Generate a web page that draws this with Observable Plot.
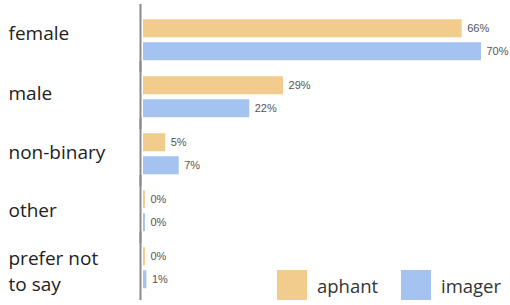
<!DOCTYPE html>
<html>
<head>
<meta charset="utf-8">
<script src="https://cdn.jsdelivr.net/npm/d3@7"></script>
<script src="https://cdn.jsdelivr.net/npm/@observablehq/plot@0.6"></script>
<style>
  html, body { margin: 0; padding: 0; background: #fff; }
  #wrap { position: relative; width: 510px; height: 305px; }
  .legend-item { position: absolute; display: flex; align-items: center; font-family: "Open Sans", sans-serif; font-size: 18.5px; color: #333; }
  .swatch { width: 30px; height: 30px; margin-right: 10px; }
</style>
</head>
<body>
<div id="wrap"></div>
<script>
const categories = ["female", "male", "non-binary", "other", "prefer not to say"];
const categoryLabels = ["female", "male", "non-binary", "other", "prefer not\nto say"];
const groups = ["aphant", "imager"];
const aphant = [66, 29, 4.6, 0.4, 0.4];
const imager = [70, 22, 7.4, 0.4, 0.7];
const aphantLabels = ["66%", "29%", "5%", "0%", "0%"];
const imagerLabels = ["70%", "22%", "7%", "0%", "1%"];
const colors = ["#F1CC8D", "#A5C3F1"];

const data = [];
categories.forEach((c, i) => {
  data.push({category: c, group: "aphant", value: aphant[i], label: aphantLabels[i]});
  data.push({category: c, group: "imager", value: imager[i], label: imagerLabels[i]});
});
const catTable = categories.map((c, i) => ({category: c, display: categoryLabels[i]}));
const labelDy = [-8, -5, -3, -2, 2];

const chart = Plot.plot({
  width: 510,
  height: 305,
  marginLeft: 143,
  marginRight: 29,
  marginTop: 9.75,
  marginBottom: 7.75,
  facet: {marginTop: 0, marginBottom: 0, marginLeft: 0, marginRight: 0},
  style: {fontFamily: "Arial, 'Liberation Sans', sans-serif", background: "#fff"},
  x: {domain: [0, 70], axis: null},
  fy: {domain: categories, axis: null, padding: 0},
  y: {domain: groups, axis: null, paddingInner: 0.2083, paddingOuter: 0.302},
  color: {domain: groups, range: colors},
  marks: [
    Plot.barX(data, {x: "value", y: "group", fy: "category", fill: "group"}),
    Plot.text(data, {x: "value", y: "group", fy: "category", text: "label", textAnchor: "start", dx: 5, fontSize: 11, fill: "#555"}),
    ...catTable.map((d, i) => Plot.text([d], {fy: "category", text: "display", frameAnchor: "left", dx: -135, dy: labelDy[i], textAnchor: "start", fontSize: 19, lineHeight: 1.35, fill: "#222", fontFamily: "'Open Sans', sans-serif"})),
    Plot.ruleX([0], {stroke: "#8a8a8a", strokeWidth: 2, dx: -3, insetTop: -7, insetBottom: -4})
  ]
});

const wrap = document.getElementById("wrap");
wrap.appendChild(chart);

const legendPos = [{left: 277, top: 270}, {left: 401, top: 270}];
groups.forEach((g, i) => {
  const item = document.createElement("div");
  item.className = "legend-item";
  item.style.left = legendPos[i].left + "px";
  item.style.top = legendPos[i].top + "px";
  const sw = document.createElement("div");
  sw.className = "swatch";
  sw.style.background = colors[i];
  const t = document.createElement("span");
  t.textContent = g;
  item.appendChild(sw);
  item.appendChild(t);
  wrap.appendChild(item);
});
</script>
</body>
</html>
